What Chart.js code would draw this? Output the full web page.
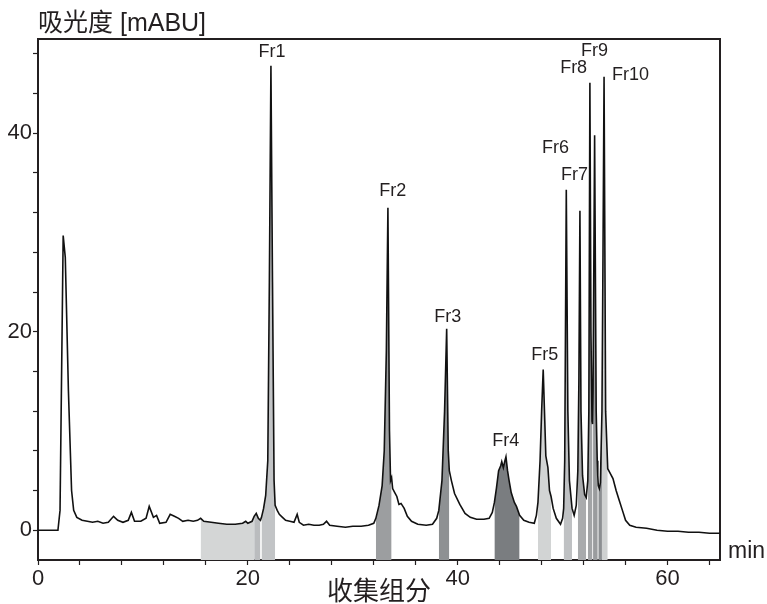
<!DOCTYPE html>
<html>
<head>
<meta charset="utf-8">
<script src="https://cdn.jsdelivr.net/npm/chart.js@4.4.1/dist/chart.umd.min.js"></script>
<style>
  html, body { margin: 0; padding: 0; background: #fff; }
  #wrap { width: 767px; height: 604px; }
</style>
</head>
<body>
<div id="wrap"><canvas id="chart" width="767" height="604"></canvas></div>
<script>
// chromatogram trace, time in min / absorbance in mABU
const TIMES = [
  0, 1.0, 1.9, 2.1, 2.4, 2.6, 2.9, 3.2, 3.4, 3.7, 4.2, 4.7, 5.2, 5.7, 6.2, 6.7, 7.2, 7.6, 8.1, 8.6,
  8.9, 9.2, 9.8, 10.3, 10.6, 11.0, 11.3, 11.6, 12.2, 12.6, 13.0, 13.4, 13.8, 14.3, 14.8, 15.2, 15.5, 15.8, 16.5, 17.2,
  18.0, 18.8, 19.5, 19.8, 20.0, 20.4, 20.6, 20.8, 21.0, 21.2, 21.3, 21.5, 21.7, 21.9, 22.05, 22.2, 22.35, 22.5, 22.6, 22.8,
  23.0, 23.3, 23.6, 24.0, 24.4, 24.7, 24.9, 25.3, 25.8, 26.3, 26.8, 27.2, 27.5, 27.8, 28.5, 29.3, 30.0, 30.8, 31.5, 32.0,
  32.2, 32.5, 32.8, 33.0, 33.2, 33.35, 33.5, 33.6, 33.7, 33.8, 34.0, 34.2, 34.4, 34.6, 34.9, 35.2, 35.6, 36.2, 37.0, 37.6,
  38.0, 38.2, 38.5, 38.75, 38.95, 39.1, 39.2, 39.4, 39.7, 40.2, 40.7, 41.2, 41.8, 42.5, 43.0, 43.3, 43.5, 43.7, 43.9, 44.1,
  44.2, 44.35, 44.5, 44.6, 44.75, 44.9, 45.1, 45.4, 45.6, 45.9, 46.3, 46.8, 47.3, 47.5, 47.65, 47.85, 48.0, 48.15, 48.3, 48.4,
  48.6, 48.75, 48.9, 49.1, 49.4, 49.8, 50.0, 50.1, 50.2, 50.35, 50.5, 50.65, 50.9, 51.1, 51.3, 51.45, 51.55, 51.65, 51.75, 51.9,
  52.1, 52.25, 52.4, 52.5, 52.6, 52.7, 52.8, 52.85, 52.9, 53.05, 53.2, 53.3, 53.35, 53.4, 53.5, 53.6, 53.75, 53.85, 53.95, 54.1,
  54.3, 54.5, 54.8, 55.1, 55.4, 55.7, 56.0, 56.4, 57.0, 58.0, 59.0, 60.0, 61.0, 62.0, 63.0, 64.0, 65.0
];
const ABSORBANCE = [
  0, 0, 0, 2, 29.7, 27.5, 14, 4, 2.0, 1.3, 1.0, 0.9, 0.8, 0.9, 0.7, 0.8, 1.4, 1.0, 0.8, 1.0,
  1.8, 0.9, 0.9, 1.2, 2.4, 1.3, 1.5, 0.7, 0.8, 1.6, 1.4, 1.2, 0.9, 1.0, 0.9, 1.0, 1.2, 0.9, 0.8, 0.7,
  0.6, 0.6, 0.7, 0.9, 0.7, 0.9, 1.4, 1.7, 1.2, 1.0, 1.3, 2.2, 3.5, 7, 25, 46.8, 25, 5, 2.5, 2.0,
  1.6, 1.3, 1.0, 0.9, 0.8, 1.6, 0.8, 0.5, 0.6, 0.5, 0.5, 0.6, 0.9, 0.5, 0.4, 0.3, 0.4, 0.4, 0.5, 0.7,
  1.2, 2.5, 4.5, 8, 18, 32.5, 10, 5, 5.3, 4.2, 3.8, 3.4, 2.6, 2.7, 2.2, 1.4, 0.9, 0.6, 0.5, 0.6,
  1.2, 2.0, 5, 12, 20.3, 8, 6, 5, 3.7, 2.6, 1.7, 1.3, 1.1, 1.1, 1.2, 1.8, 2.8, 4.3, 6.0, 6.5,
  6.9, 6.3, 7.0, 7.4, 6.0, 5.0, 3.8, 2.8, 2.4, 1.5, 1.0, 0.8, 0.7, 1.5, 2.8, 7, 12, 16.2, 11, 7.5,
  6.3, 4, 3.4, 2.2, 1.2, 0.6, 1.2, 2.2, 7, 34.3, 12, 5, 2.2, 1.5, 2.5, 6, 15, 32.2, 12, 5.5,
  3.6, 3.3, 5, 12, 45.1, 20, 11, 10.7, 14, 39.8, 12, 7, 5.5, 4.5, 4.2, 4.8, 12, 28, 45.7, 12,
  6.2, 5.8, 5.2, 4.0, 3.0, 2.0, 1.0, 0.5, 0.3, 0.2, 0.0, -0.1, -0.1, -0.2, -0.2, -0.3, -0.3
];

// collected fractions (shaded bands)
const FRACTION_STARTS = [15.5, 20.6, 21.3, 32.2, 38.2, 43.5, 47.65, 50.1, 51.45, 52.4, 52.9, 53.4, 53.75];
const FRACTION_ENDS = [20.6, 21.2, 22.6, 33.7, 39.2, 45.9, 48.9, 50.9, 52.25, 52.85, 53.35, 53.75, 54.3];
const FRACTION_COLORS = [
  '#d4d6d6', '#babcbe', '#c2c4c6', '#9c9ea0', '#8e9193', '#7a7d80', '#d2d4d4',
  '#bfc1c3', '#a9abad', '#a2a4a6', '#9a9c9e', '#8c8f92', '#cfd1d1'
];

// peak labels
const PEAK_NAMES = ['Fr1', 'Fr2', 'Fr3', 'Fr4', 'Fr5', 'Fr6', 'Fr7', 'Fr8', 'Fr9', 'Fr10'];
const PEAK_LABEL_TIMES = [22.3, 33.8, 39.05, 44.57, 48.29, 49.33, 51.14, 51.05, 53.05, 56.48];
const PEAK_LABEL_LEVELS = [48.2, 34.2, 21.5, 9.0, 17.7, 38.5, 35.8, 46.6, 48.3, 45.9];

const X_TICK_LABELS = [0, 20, 40, 60];
const Y_TICK_LABELS = [0, 20, 40];

const FONT = `"Liberation Sans", "Noto Sans CJK SC", sans-serif`;
const INK = `#231f20`;

const trace = TIMES.map((t, i) => ({x: t, y: ABSORBANCE[i]}));

const fractionSets = FRACTION_STARTS.map((from, i) => ({
  data: trace.filter((p) => p.x >= from && p.x <= FRACTION_ENDS[i]),
  borderWidth: 0,
  borderColor: `rgba(0,0,0,0)`,
  backgroundColor: FRACTION_COLORS[i],
  fill: `start`,
  pointRadius: 0,
  tension: 0,
}));

const annotations = {
  id: `annotations`,
  afterDatasetsDraw(chart) {
    const {ctx, chartArea, scales: {x, y}} = chart;
    ctx.save();
    ctx.fillStyle = INK;
    ctx.textBaseline = `middle`;
    ctx.textAlign = `center`;
    ctx.font = `18px ${FONT}`;
    PEAK_NAMES.forEach((name, i) => {
      ctx.fillText(name, x.getPixelForValue(PEAK_LABEL_TIMES[i]), y.getPixelForValue(PEAK_LABEL_LEVELS[i]));
    });
    ctx.textAlign = `left`;
    ctx.font = `25px ${FONT}`;
    ctx.fillText(`吸光度 [mABU]`, chartArea.left, chartArea.top - 15);
    ctx.font = `23px ${FONT}`;
    ctx.fillText(`min`, chartArea.right + 8, chartArea.bottom - 8);
    ctx.restore();
  }
};

const frameAxis = (position) => ({
  type: `linear`,
  position: position,
  ticks: {display: false},
  grid: {drawOnChartArea: false, drawTicks: false},
  border: {display: true, color: INK, width: 2},
  afterFit: (scale) => {
    if (scale.isHorizontal()) {
      scale.height = 0;
    } else {
      scale.width = 0;
    }
  },
});

new Chart(document.getElementById(`chart`), {
  type: `line`,
  data: {
    datasets: [{
      data: trace,
      borderColor: `#111111`,
      borderWidth: 1.6,
      pointRadius: 0,
      tension: 0,
      fill: false,
    }, ...fractionSets],
  },
  plugins: [annotations],
  options: {
    responsive: false,
    animation: false,
    devicePixelRatio: 1,
    layout: {padding: {top: 39, right: 47, left: 0, bottom: 0}},
    plugins: {
      legend: {display: false},
      tooltip: {enabled: false},
    },
    scales: {
      x: {
        type: `linear`,
        min: 0,
        max: 65,
        ticks: {
          stepSize: 4,
          includeBounds: false,
          autoSkip: false,
          maxRotation: 0,
          padding: 1,
          color: INK,
          font: {family: FONT, size: 22},
          callback: (v) => (X_TICK_LABELS.includes(v) ? String(v) : ``),
        },
        grid: {drawOnChartArea: false, drawTicks: true, tickLength: 5, tickColor: INK, tickWidth: 1.2},
        border: {display: true, color: INK, width: 2},
        title: {
          display: true,
          text: `收集组分`,
          color: INK,
          padding: 0,
          font: {family: FONT, size: 26, lineHeight: 0.85},
        },
        afterFit: (scale) => {
          scale.height = 44;
        },
      },
      y: {
        type: `linear`,
        min: -3,
        max: 49.5,
        ticks: {
          stepSize: 4,
          includeBounds: false,
          autoSkip: false,
          padding: 1,
          color: INK,
          font: {family: FONT, size: 22},
          callback: (v) => (Y_TICK_LABELS.includes(v) ? String(v) : ``),
        },
        grid: {drawOnChartArea: false, drawTicks: true, tickLength: 5, tickColor: INK, tickWidth: 1.2},
        border: {display: true, color: INK, width: 2},
        afterFit: (scale) => {
          scale.width = 38;
        },
      },
      x2: frameAxis(`top`),
      y2: frameAxis(`right`),
    },
  },
});
</script>
</body>
</html>
